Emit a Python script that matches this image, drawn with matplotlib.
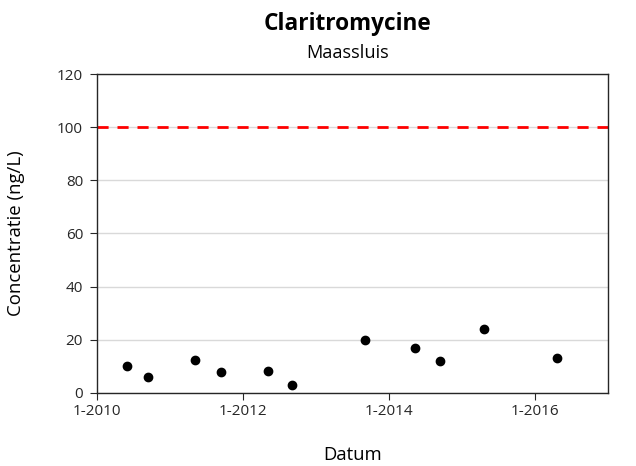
import pandas as pd
import matplotlib.pyplot as plt
import matplotlib.dates as mdates

# Data
dates = ["2010-05-30", "2010-09-15", "2011-05-08", "2011-09-13", "2012-05-07",
         "2012-09-05", "2013-09-02", "2014-05-10", "2014-09-13", "2015-04-23",
         "2016-04-20"]
values = [10, 6, 12.4, 7.8, 8.2, 3, 20, 17, 12, 24, 13]
norm = 100
xtick_years = [2010, 2012, 2014, 2016]

plt.rcParams['font.family'] = ['Open Sans', 'DejaVu Sans']

fig = plt.figure(figsize=(6.36, 4.66), dpi=100)
ax = fig.add_axes([0.1525, 0.1567, 0.8035, 0.6845])

x = pd.to_datetime(dates)
ax.plot(x, values, 'o', color='black', markersize=6, zorder=3)
ax.axhline(norm, color='#ff0000', linestyle=(0, (4, 3.2)), linewidth=2, zorder=2)

ax.set_xlim(pd.Timestamp("2010-01-01"), pd.Timestamp("2017-01-01"))
ax.set_ylim(0, 120)
ax.set_yticks(range(0, 121, 20))
ax.set_xticks([pd.Timestamp(f"{y}-01-01") for y in xtick_years])
ax.xaxis.set_major_formatter(mdates.DateFormatter("1-%Y"))

ax.grid(axis='y', color='#d9d9d9', linewidth=1)
ax.set_axisbelow(True)
for s in ax.spines.values():
    s.set_color('#262626')
    s.set_linewidth(1)
ax.tick_params(direction='out', length=5, labelsize=11, colors='#262626')
ax.tick_params(axis='y', pad=5)
ax.tick_params(axis='x', pad=3)

ax.set_ylabel("Concentratie (ng/L)", fontsize=13.4)
ax.yaxis.set_label_coords(-0.158, 0.5)
ax.set_xlabel("Datum", fontsize=13.3)
ax.xaxis.set_label_coords(0.5, -0.193)
ax.xaxis.label.set_va('center')
ax.yaxis.label.set_va('center')

# titles are centred over the plot area, as in the reference
fig.text(0.547, 0.948, "Claritromycine", ha='center', va='center',
         fontsize=16.3, fontweight='bold')
fig.text(0.547, 0.887, "Maassluis", ha='center', va='center', fontsize=13.1)

fig.savefig("out.png", dpi=100)
